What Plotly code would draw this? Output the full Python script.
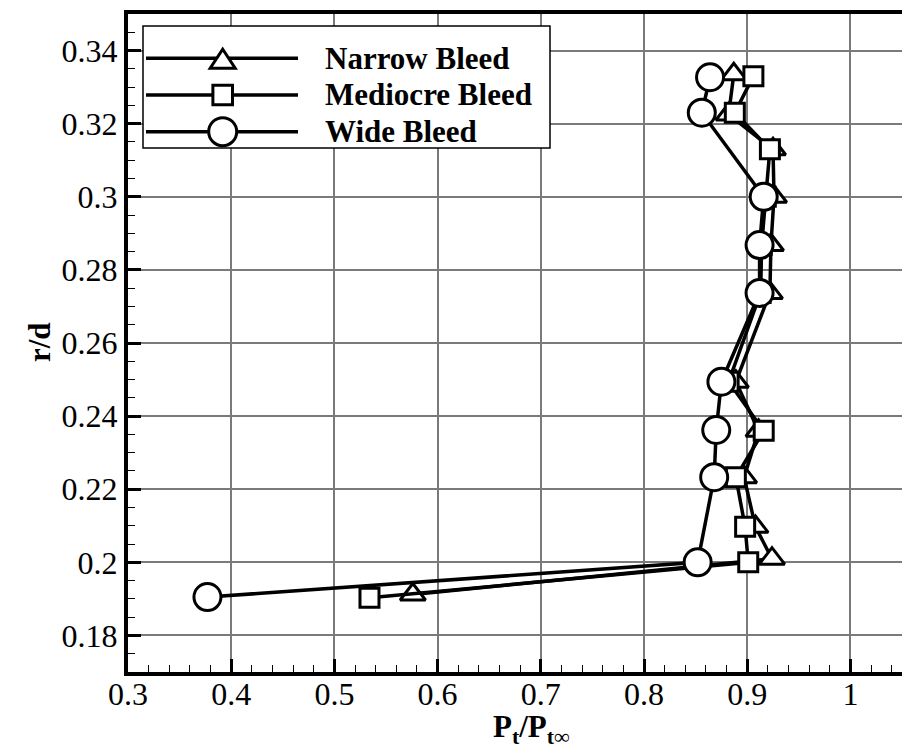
import plotly.graph_objects as go

# ---------------- data ----------------
narrow_x = [0.576, 0.924, 0.908, 0.897, 0.911, 0.889, 0.922, 0.923, 0.926, 0.925, 0.882, 0.887]
narrow_y = [0.1912, 0.201, 0.2097, 0.2233, 0.236, 0.2494, 0.2737, 0.2868, 0.300, 0.313, 0.3225, 0.3335]

medio_x = [0.534, 0.901, 0.898, 0.889, 0.916, 0.882, 0.913, 0.914, 0.918, 0.922, 0.888, 0.906]
medio_y = [0.1903, 0.200, 0.2097, 0.2233, 0.236, 0.2494, 0.2737, 0.2868, 0.300, 0.313, 0.323, 0.333]

wide_x = [0.377, 0.852, 0.868, 0.870, 0.875, 0.912, 0.912, 0.916, 0.856, 0.864]
wide_y = [0.1905, 0.200, 0.2233, 0.2362, 0.2494, 0.2737, 0.2868, 0.300, 0.323, 0.3327]

series_names = ["Narrow Bleed", "Mediocre Bleed", "Wide Bleed"]
x_ticks = [0.3, 0.4, 0.5, 0.6, 0.7, 0.8, 0.9, 1.0]
y_ticks = [0.18, 0.20, 0.22, 0.24, 0.26, 0.28, 0.30, 0.32, 0.34]
x_title = "<b>P<sub>t</sub>/P<sub>t\u221e</sub></b>"
y_title = "<b>r/d</b>"

# ---------------- layout geometry ----------------
FIG_W, FIG_H = 902, 752
L, R, T, B = 128, 902, 14, 672
PW, PH = R - L, B - T


def fx(px):
    return (px - L) / PW


def fy(py):
    return (B - py) / PH


FONT = "Liberation Serif, Times New Roman, serif"
LINE_W = 3.5
MK_LINE = 3

fig = go.Figure()

specs = [
    (narrow_x, narrow_y, "triangle-up", 22),
    (medio_x, medio_y, "square", 19),
    (wide_x, wide_y, "circle", 27),
]
for (xs, ys, sym, size), name in zip(specs, series_names):
    fig.add_trace(go.Scatter(
        x=xs, y=ys, mode="lines+markers", name=name, showlegend=False,
        line=dict(color="black", width=LINE_W),
        marker=dict(symbol=sym, size=size, color="white",
                    line=dict(color="black", width=MK_LINE)),
        cliponaxis=False,
    ))

# ---------------- custom legend (drawn as shapes) ----------------
shapes = []
lx0, lx1, ly0, ly1 = 143, 550, 26, 148
shapes.append(dict(type="rect", xref="paper", yref="paper", layer="above",
                   x0=fx(lx0), x1=fx(lx1), y0=fy(ly1), y1=fy(ly0),
                   line=dict(color="black", width=1.5), fillcolor="white"))
rows_y = [58.3, 95, 131.7]
sx0, sx1, mx = 146, 298, 222.7
text_x = 323
for i, ry in enumerate(rows_y):
    shapes.append(dict(type="line", xref="paper", yref="paper", layer="above",
                       x0=fx(sx0), x1=fx(sx1), y0=fy(ry), y1=fy(ry),
                       line=dict(color="black", width=LINE_W)))
# triangle
hb, th = 12.5, 19
tcy = rows_y[0] + 2
path = "M {a},{b} L {c},{d} L {e},{f} Z".format(
    a=fx(mx - hb), b=fy(tcy + th * 0.42), c=fx(mx + hb), d=fy(tcy + th * 0.42),
    e=fx(mx), f=fy(tcy - th * 0.58))
shapes.append(dict(type="path", xref="paper", yref="paper", layer="above", path=path,
                   fillcolor="white", line=dict(color="black", width=MK_LINE)))
# square
hs = 9.8
shapes.append(dict(type="rect", xref="paper", yref="paper", layer="above",
                   x0=fx(mx - hs), x1=fx(mx + hs), y0=fy(rows_y[1] + hs), y1=fy(rows_y[1] - hs),
                   fillcolor="white", line=dict(color="black", width=MK_LINE)))
# circle
rc = 14
shapes.append(dict(type="circle", xref="paper", yref="paper", layer="above",
                   x0=fx(mx - rc), x1=fx(mx + rc), y0=fy(rows_y[2] + rc), y1=fy(rows_y[2] - rc),
                   fillcolor="white", line=dict(color="black", width=MK_LINE)))

annotations = []
for name, ry in zip(series_names, rows_y):
    annotations.append(dict(xref="paper", yref="paper", x=fx(text_x), y=fy(ry),
                            xanchor="left", yanchor="middle", showarrow=False,
                            text="<b>" + name + "</b>",
                            font=dict(family=FONT, size=31, color="black")))
# axis titles
annotations.append(dict(xref="paper", yref="paper", x=fx(531), y=fy(751),
                        xanchor="center", yanchor="bottom", showarrow=False,
                        text=x_title, font=dict(family=FONT, size=31, color="black")))
annotations.append(dict(xref="paper", yref="paper", x=fx(39), y=fy(342),
                        xanchor="center", yanchor="middle", showarrow=False, textangle=-90,
                        text=y_title, font=dict(family=FONT, size=31, color="black")))

axis_common = dict(
    showline=True, linecolor="black", linewidth=4,
    showgrid=True, gridcolor="#7a7a7a", gridwidth=1.5,
    zeroline=False,
    ticks="inside", ticklen=13, tickwidth=3, tickcolor="black",
    tickfont=dict(family=FONT, size=32, color="black"),
)

fig.update_layout(
    width=FIG_W, height=FIG_H,
    margin=dict(l=L, r=FIG_W - R, t=T, b=FIG_H - B, pad=0),
    paper_bgcolor="white", plot_bgcolor="white",
    showlegend=False,
    shapes=shapes, annotations=annotations,
    xaxis=dict(range=[0.3, 1.05], tickvals=x_ticks, mirror=True, ticklabelstandoff=-9,
               minor=dict(ticks="inside", dtick=0.02, ticklen=7, tickwidth=1.2,
                          tickcolor="black", showgrid=False),
               **axis_common),
    yaxis=dict(range=[0.17, 0.35], tickvals=y_ticks, mirror=False,
               minor=dict(ticks="inside", dtick=0.005, tick0=0.17, ticklen=7, tickwidth=1.2,
                          tickcolor="black", showgrid=False),
               **axis_common),
)

fig.write_html("out.html")
